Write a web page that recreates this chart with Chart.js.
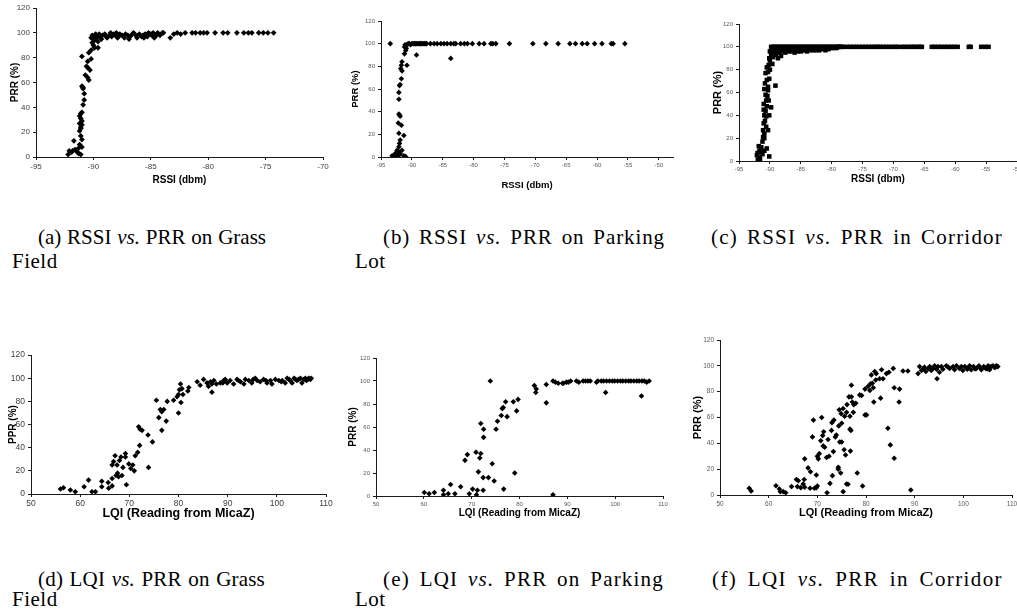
<!DOCTYPE html>
<html>
<head>
<meta charset="utf-8">
<script src="https://cdn.jsdelivr.net/npm/chart.js@4.4.1/dist/chart.umd.min.js"></script>
<style>
  html, body { margin: 0; padding: 0; background: #fff; width: 1017px; height: 612px; overflow: hidden; position: relative; }
  canvas { position: absolute; }
  .cap { position: absolute; font-family: 'Liberation Serif', 'Times New Roman', serif; font-size: 21px; line-height: 22px; letter-spacing: 0.5px; color: #000; white-space: nowrap; }
  .cap.j { white-space: normal; text-align: justify; text-align-last: justify; }
</style>
</head>
<body>

<div class="cap j" style="left:38px;top:226px;width:228px;letter-spacing:0">(a) RSSI <i>vs.</i> PRR on Grass</div>
<div class="cap" style="left:12px;top:250px">Field</div>
<div class="cap j" style="left:383px;top:226px;width:282px;letter-spacing:0.9px">(b) RSSI <i>vs.</i> PRR on Parking</div>
<div class="cap" style="left:355px;top:250px">Lot</div>
<div class="cap j" style="left:711px;top:226px;width:292px;letter-spacing:1.2px">(c) RSSI <i>vs.</i> PRR in Corridor</div>

<div class="cap j" style="left:38px;top:568px;width:227px;letter-spacing:0.2px">(d) LQI <i>vs.</i> PRR on Grass</div>
<div class="cap" style="left:12px;top:588px">Field</div>
<div class="cap j" style="left:383px;top:568px;width:281px;letter-spacing:1.2px">(e) LQI <i>vs.</i> PRR on Parking</div>
<div class="cap" style="left:355px;top:588px">Lot</div>
<div class="cap j" style="left:712px;top:568px;width:291px;letter-spacing:1.4px">(f) LQI <i>vs.</i> PRR in Corridor</div>

<script>
// --- tick labels -----------------------------------------------------------
const prrTicks = [0, 20, 40, 60, 80, 100, 120];
const rssiTicksShort = [-95, -90, -85, -80, -75, -70];
const rssiTicksLong = [-95, -90, -85, -80, -75, -70, -65, -60, -55, -50];
const lqiTicks = [50, 60, 70, 80, 90, 100, 110];

// --- series: [x, PRR %] -----------------------------------------------------
const grassRssi = [
  [-92.2,2],[-92.1,5],[-91.9,4],[-91.8,5],[-91.6,6],[-91.4,4],[-91.3,3],[-91.1,2],[-91.7,13],[-91.3,7],
  [-91.2,10],[-91.1,17],[-91.2,21],[-91.1,24],[-91.0,29],[-91.2,33],[-91.1,35],[-91.0,36],[-91.1,31],[-91.0,26],
  [-91.2,27],[-91.1,23],[-91.0,14],[-91.0,8],[-90.9,42],[-90.9,56],[-91.0,57],[-90.9,55],[-90.8,51],[-90.8,46],
  [-90.7,66],[-90.6,73],[-90.5,72],[-90.4,62],[-90.5,64],[-91.0,81],[-90.5,77],[-90.3,70],[-90.2,79],[-90.4,84],
  [-90.2,86],[-90.1,92],[-90.0,95],[-90.2,96],[-89.9,88],[-89.6,88],[-90.0,90],[-90.1,98],[-89.9,97],[-89.8,99],
  [-90.0,97],[-89.8,98],[-89.7,96],[-89.5,99],[-89.4,97],[-89.3,95],[-89.2,98],[-89.0,99],[-88.9,97],[-88.8,96],
  [-88.6,98],[-88.5,100],[-88.4,97],[-88.2,99],[-88.1,98],[-88.0,100],[-87.8,97],[-87.7,99],[-87.5,98],[-87.3,96],
  [-87.2,99],[-87.0,98],[-86.8,97],[-86.6,99],[-86.5,100],[-86.3,98],[-86.2,96],[-86.0,99],[-85.8,97],[-85.7,98],
  [-85.5,99],[-85.3,97],[-85.2,100],[-85.0,99],[-84.9,98],[-84.8,100],[-84.6,97],[-84.5,99],[-84.4,100],[-84.2,98],
  [-84.0,100],[-83.9,100],[-89.6,93],[-89.9,94],[-87.9,96],[-86.9,95],[-85.6,96],[-84.7,96],
  [-83.3,96],[-83.0,99],[-82.7,100],[-82.4,99],[-82.0,100],[-81.4,100],[-81.1,100],[-80.7,100],[-80.4,100],[-80.1,100],
  [-79.4,100],[-78.7,100],[-78.3,100],[-77.5,100],[-76.9,100],[-76.5,100],[-76.2,100],[-75.6,100],[-75.2,100],[-74.8,100],
  [-74.3,100]
];

const parkingRssi = [
  [-93.5,100],[-91.2,97],[-91.0,94],[-91.2,91],[-90.8,81],[-91.6,84],[-91.7,81],[-91.6,76],[-91.8,78],[-91.7,69],
  [-92.0,63],[-91.9,64],[-92.1,57],[-92.1,51],[-92.0,37],[-92.1,38],[-91.9,36],[-92.2,30],[-91.7,28],[-92.1,21],
  [-91.3,19],[-91.9,15],[-92.0,12],[-92.1,9],[-92.4,6],[-92.7,3],[-92.9,1],[-93.2,1],[-92.2,5],[-91.9,3],
  [-91.6,6],[-92.0,2],[-91.0,0.3],[-91.3,1],[-92.3,2],[-92.5,1],
  [-91.0,98],[-90.8,99],[-90.6,100],[-90.4,100],[-90.2,99],[-90.0,100],[-89.8,100],[-89.6,100],[-89.4,100],[-89.2,100],
  [-89.0,100],[-88.8,100],[-88.6,100],[-88.4,100],[-88.2,100],[-88.0,100],[-87.8,100],[-87.6,100],[-90.9,96],[-91.1,99],
  [-89.25,90],[-83.7,87],
  [-87.0,100],[-86.4,100],[-85.9,100],[-85.3,100],[-84.8,100],[-84.3,100],[-83.7,100],[-83.2,100],[-82.9,100],[-82.1,100],
  [-81.5,100],[-81.0,100],[-80.2,100],[-79.1,100],[-78.3,100],[-77.2,100],[-76.9,100],[-76.4,100],[-74.2,100],[-70.4,100],
  [-68.3,100],[-66.3,100],[-64.4,100],[-63.5,100],[-62.4,100],[-61.6,100],[-60.4,100],[-59.2,100],[-57.7,100],[-57.4,100],
  [-55.5,100]
];

const corridorRssi = [
  [-91.95,1],[-92.1,5],[-91.7,3],[-91.4,8],[-90.9,9],[-90.1,4],[-91.8,13],[-91.4,12],[-91.1,21],[-90.9,20],
  [-91.1,27],[-90.3,27],[-91.0,33],[-90.9,40],[-90.6,39],[-90.1,40],[-91.0,50],[-90.5,48],[-89.8,47],[-90.7,58],
  [-90.9,63],[-90.3,62],[-90.5,71],[-90.1,72],[-90.3,78],[-90.7,77],[-90.2,84],[-89.6,85],[-90.1,90],[-89.5,91],
  [-89.1,66],[-90.0,96],[-88.7,90],[-90.6,53],[-90.2,53],[-90.7,44],[-90.3,65],[-90.5,82],[-90.0,80],[-90.6,30],
  [-90.9,24],[-91.2,17],[-91.7,9],[-90.5,11],[-92.0,7],[-91.6,2],[-91.2,6],[-90.8,35],[-90.4,57],[-90.0,88],
  [-89.8,93],[-90.8,68],[-91.0,45],
  [-89.8,100],[-89.5,100],[-89.2,100],[-88.9,100],[-88.6,100],[-88.3,100],[-88.0,100],[-87.7,100],[-87.4,100],[-87.1,100],
  [-86.8,100],[-86.5,100],[-86.2,100],[-85.9,100],[-85.6,100],[-85.3,100],[-85.0,100],[-84.7,100],[-84.4,100],[-84.1,100],
  [-83.8,100],[-83.5,100],[-83.2,100],[-82.9,100],[-82.6,100],[-82.3,100],[-82.0,100],[-81.7,100],[-81.4,100],[-81.1,100],
  [-80.8,100],[-80.5,100],[-80.2,100],[-79.9,100],[-79.6,100],[-79.3,100],[-79.0,100],[-78.7,100],[-78.4,100],[-78.1,100],
  [-89.6,98],[-89.2,97],[-88.8,98],[-88.4,97],[-88.0,98],[-87.6,97],[-87.2,98],[-86.8,97],[-86.4,98],[-86.0,97],
  [-85.6,98],[-85.2,98],[-84.8,97],[-84.4,98],[-84.0,98],[-83.6,98],[-83.2,99],[-82.8,98],[-82.4,99],[-82.0,98],
  [-81.6,99],[-81.2,99],[-80.8,99],[-80.4,99],[-80.0,99],[-79.6,99],[-79.2,99],[-78.8,100],
  [-89.4,95],[-88.9,96],[-88.5,95],[-88.0,96],[-87.5,95],[-87.0,96],[-86.5,96],[-86.0,95],[-85.5,96],[-85.0,96],
  [-84.5,97],[-84.0,96],[-83.5,97],[-83.0,97],[-82.5,97],[-82.0,97],[-81.5,98],[-81.0,97],[-80.5,98],[-88.2,92],
  [-89.0,93],
  [-77.5,100],[-77.0,100],[-76.5,100],[-76.0,100],[-75.5,100],[-75.0,100],[-74.5,100],[-74.0,100],[-73.5,100],[-73.0,100],
  [-72.6,100],[-72.2,100],[-71.7,100],[-71.2,100],[-70.7,100],[-70.2,100],[-69.7,100],[-69.3,100],[-68.6,100],[-68.1,100],
  [-67.6,100],[-67.1,100],[-66.7,100],[-66.2,100],[-65.8,100],[-65.4,100],[-63.8,100],[-63.3,100],[-62.8,100],[-62.3,100],
  [-61.7,100],[-61.2,100],[-60.7,100],[-60.2,100],[-59.6,100],[-57.8,100],[-57.5,100],[-55.8,100],[-55.2,100],[-54.6,100]
];

const grassLqi = [
  [56.0,4.3],[56.6,5.4],[58.0,3.4],[59.0,2],[60.8,6.3],[61.7,12],[62.4,2],[63.1,2],[64.4,6.3],[64.4,11],
  [65.7,10],[65.8,5],[66.5,7],[66.5,13.4],[66.5,25],[66.8,28],[67.1,33],[67.3,16],[67.6,18],[67.5,25],
  [67.8,15],[68.0,29],[68.3,32],[68.7,23],[68.5,16],[69.2,35],[69.2,32],[69.4,8],[69.9,26],[70.3,22],
  [70.7,25],[71.0,20],[71.2,33],[71.7,36],[72.1,42],[71.9,58],[72.2,56],[72.6,55],[73.8,51],[73.9,23],
  [74.7,45],[75.5,81],[76.0,66],[76.3,73],[76.6,71],[77.0,73],[76.6,55],[77.5,63],[77.7,80],[79.0,81],
  [79.7,84],[80.0,86],[80.0,70],[80.2,90],[80.4,95],[80.7,91],[80.5,79],[80.9,86],[81.9,89],[82.1,92],
  [83.8,97],[84.4,94],[85.1,99],[85.8,96],[86.1,93],[86.5,97],[86.8,95],[86.8,88],[87.2,98],[87.7,95],
  [88.5,96],[89.0,96],[89.2,98],[89.5,99],[89.9,96],[90.5,98],[91.2,95],[91.9,99],[92.2,98],[92.6,97],
  [93.3,95],[93.6,99],[94.3,98],[94.9,96],[95.2,99],[95.6,100],[96.0,98],[96.6,97],[97.3,99],[97.8,98],
  [98.0,96],[98.7,98],[99.0,95],[99.7,99],[100.4,98],[100.9,97],[101.1,98],[101.7,96],[102.1,100],[102.5,99],
  [102.7,98],[103.1,96],[103.5,100],[103.8,99],[104.1,98],[104.4,99],[104.8,100],[105.1,96],[105.5,99],[105.8,100],
  [106.0,98],[106.3,99],[106.5,100],[106.8,99],[107.0,100]
];

const parkingLqi = [
  [60.1,3],[61.1,2],[62.2,3],[64.1,5],[64.1,1],[65.1,2],[65.6,10],[66.5,2],[67.7,8],[68.6,31],
  [69.1,36],[69.5,2],[70.2,6],[70.9,38],[71.0,1],[71.2,5],[71.4,21],[71.7,33],[71.9,63],[71.9,37],
  [72.4,5],[72.4,16],[72.5,58],[72.5,51],[73.5,16],[73.9,100],[74.3,28],[74.7,13],[75.1,58],[75.4,65],
  [76.2,70],[76.4,76],[76.6,77],[76.7,6],[77.1,82],[77.4,69],[78.7,82],[79.0,20],[79.4,74],[79.7,84],
  [83.1,96],[83.4,90],[83.5,93],[85.6,97],[85.6,81],[87.0,1],[87.0,100],[87.5,99],[88.1,98],[89.0,98],
  [89.2,98],[89.8,99],[90.2,99],[90.7,100],[91.9,100],[92.4,99],[93.3,100],[93.8,100],[94.3,100],[94.8,100],
  [96.1,99],[96.4,100],[97.1,100],[97.6,100],[98.0,90],[98.2,100],[98.8,100],[99.4,100],[99.9,100],[100.5,100],
  [101.1,100],[101.6,100],[102.2,100],[102.8,100],[103.3,100],[103.9,100],[104.5,100],[105.0,100],[105.5,87],[105.6,100],
  [106.1,100],[106.6,99],[107.1,100]
];

const corridorLqi = [
  [56.0,5.2],[56.4,3.1],[61.5,7.2],[62.2,4.7],[62.4,2.6],[63.0,2.6],[63.5,1.8],[64.7,6.5],[65.7,12],[66.1,11],
  [65.9,6.5],[66.6,5.7],[67.1,8.5],[67.3,12],[67.4,28],[67.4,6],[68.1,21],[68.5,5.2],[68.6,18],[69.0,45],
  [69.2,58],[69.4,5.2],[69.8,15.5],[69.8,5.7],[70.0,30],[70.2,28],[70.0,7],[70.4,32],[70.7,42],[70.9,60],
  [71.1,46],[71.2,38],[71.3,49],[71.5,37],[71.9,29],[72.0,1.8],[72.2,43],[72.4,30],[72.6,9],[72.9,50],
  [73.0,56],[73.3,33.6],[73.1,15],[73.4,58],[73.7,45],[73.9,46.5],[74.3,21.4],[74.3,20],[74.4,53.5],[74.5,66],
  [74.6,41],[74.8,17],[75.0,41],[74.9,63],[75.0,55.5],[75.3,2.6],[75.3,67],[75.5,35],[75.6,61],[75.8,31],
  [76.0,8.5],[76.0,64],[76.1,70],[76.3,8.3],[76.5,76],[76.7,61],[76.7,51],[76.9,50],[76.8,34],[77.0,85],
  [77.0,76],[77.2,72],[77.4,64],[77.5,70],[77.9,71],[78.2,17],[78.7,77.5],[79.1,77],[79.3,7],[79.8,82],
  [79.8,62],[80.1,62],[80.4,84],[80.8,81],[80.9,86],[81.1,93],[81.3,86.5],[81.5,83],[81.6,72],[81.8,95.6],
  [82.0,89],[82.1,94],[82.8,90],[83.0,75],[83.2,97],[83.5,90],[84.2,94],[84.5,51.7],[84.7,95],[85.0,38.8],
  [85.6,98],[85.8,28.4],[85.8,83],[86.9,82],[86.8,72],[87.6,96],[88.6,96],[89.2,3.9],[90.7,94],
  [91.0,99.4],[91.4,96.4],[91.7,97.4],[92.0,99],[92.3,95.6],[92.8,98],[93.1,99.4],[93.4,96.4],[93.8,98],[94.1,100],
  [94.5,97.4],[94.6,90],[94.8,99.4],[95.1,95],[95.5,99.4],[95.8,97.4],[96.5,100],[96.9,99],[97.2,98],[97.9,99.4],
  [98.2,97],[98.6,100],[99.2,98],[99.6,99.5],[99.9,96.4],[100.3,99.4],[100.8,97.4],[101.0,98.5],[101.3,100],[101.6,97],
  [102.1,99.4],[102.4,97.5],[102.7,98],[103.2,100],[103.5,98.5],[103.7,97],[104.2,99.4],[104.6,98],[104.9,97.5],[105.1,100],
  [105.4,97],[105.7,99.4],[106.1,100],[106.4,98.7],[106.6,99],[106.8,100],[107.1,99.4]
];

// --- panel layout ----------------------------------------------------------
const YW = 40;   // space kept for y tick labels + title
const XH = 40;   // space kept for x tick labels + title
const PT = 8;
const PR = 10;
const AXIS = '#1a1a1a';
const SANS = "'Liberation Sans', Arial, sans-serif";

function makePanel(cfg) {
  const box = cfg.box;
  const w = box.r - box.l + YW + PR;
  const h = box.b - box.t + PT + XH;
  const canvas = document.createElement('canvas');
  canvas.width = w;
  canvas.height = h;
  canvas.style.left = (box.l - YW) + 'px';
  canvas.style.top = (box.t - PT) + 'px';
  canvas.style.width = w + 'px';
  canvas.style.height = h + 'px';
  document.body.appendChild(canvas);

  const xLH = cfg.xTitleSize * 1.2;
  const yLH = cfg.yTitleSize * 1.2;
  const xTitlePad = box.b + XH - cfg.xTitleY - xLH / 2;
  const yTitlePad = cfg.yTitleX - (box.l - YW) - yLH / 2;

  const tickFont = { family: SANS, size: cfg.tickSize };

  new Chart(canvas, {
    type: 'scatter',
    data: {
      datasets: [{
        data: cfg.points.map(([x, y]) => ({ x, y })),
        pointStyle: cfg.marker,
        pointRadius: cfg.radius,
        backgroundColor: '#000',
        borderColor: '#000',
        borderWidth: 0,
      }],
    },
    options: {
      responsive: false,
      animation: false,
      events: [],
      layout: { padding: { left: 0, top: PT, right: PR, bottom: 0 } },
      plugins: { legend: { display: false }, tooltip: { enabled: false } },
      scales: {
        x: {
          type: 'linear',
          min: cfg.xMin,
          max: cfg.xMax,
          afterBuildTicks: (s) => { s.ticks = cfg.xTicks.map((v) => ({ value: v })); },
          afterFit: (s) => { s.height = XH; },
          grid: { drawOnChartArea: false, drawTicks: true, tickLength: 3, color: AXIS },
          border: { color: AXIS, width: 1 },
          ticks: { color: cfg.tickColor, font: tickFont, padding: 2, maxRotation: 0, autoSkip: false },
          title: {
            display: true, text: cfg.xTitle, color: '#000',
            font: { family: SANS, size: cfg.xTitleSize, weight: 'bold' },
            padding: { top: 0, bottom: xTitlePad },
          },
        },
        y: {
          type: 'linear',
          min: 0,
          max: 120,
          afterBuildTicks: (s) => { s.ticks = prrTicks.map((v) => ({ value: v })); },
          afterFit: (s) => { s.width = YW; },
          grid: { drawOnChartArea: false, drawTicks: true, tickLength: 3, color: AXIS },
          border: { color: AXIS, width: 1 },
          ticks: { color: cfg.tickColor, font: tickFont, padding: 3 },
          title: {
            display: true, text: cfg.yTitle, color: '#000',
            font: { family: SANS, size: cfg.yTitleSize, weight: 'bold' },
            padding: { top: yTitlePad, bottom: 0 },
          },
        },
      },
    },
  });
}

makePanel({
  box: { l: 36, r: 323, t: 8, b: 157 }, points: grassRssi,
  xMin: -95, xMax: -70, xTicks: rssiTicksShort, tickSize: 8, tickColor: '#404040',
  xTitle: 'RSSI (dbm)', xTitleSize: 10, xTitleY: 180,
  yTitle: 'PRR (%)', yTitleSize: 10, yTitleX: 15,
  marker: 'rectRot', radius: 2.9,
});
makePanel({
  box: { l: 381, r: 673, t: 21, b: 157 }, points: parkingRssi,
  xMin: -95, xMax: -47.7, xTicks: rssiTicksLong, tickSize: 6, tickColor: '#595959',
  xTitle: 'RSSI (dbm)', xTitleSize: 9.5, xTitleY: 185,
  yTitle: 'PRR (%)', yTitleSize: 9.5, yTitleX: 355,
  marker: 'rectRot', radius: 2.8,
});
makePanel({
  box: { l: 739, r: 1017, t: 24, b: 161 }, points: corridorRssi,
  xMin: -95, xMax: -50, xTicks: rssiTicksLong, tickSize: 6, tickColor: '#595959',
  xTitle: 'RSSI (dbm)', xTitleSize: 10, xTitleY: 179,
  yTitle: 'PRR (%)', yTitleSize: 11, yTitleX: 718,
  marker: 'rect', radius: 3.2,
});
makePanel({
  box: { l: 31, r: 326, t: 355, b: 494 }, points: grassLqi,
  xMin: 50, xMax: 110, xTicks: lqiTicks, tickSize: 8.5, tickColor: '#404040',
  xTitle: 'LQI (Reading from MicaZ)', xTitleSize: 12.5, xTitleY: 514,
  yTitle: 'PPR (%)', yTitleSize: 10, yTitleX: 13,
  marker: 'rectRot', radius: 2.8,
});
makePanel({
  box: { l: 376, r: 663, t: 358, b: 496 }, points: parkingLqi,
  xMin: 50, xMax: 110, xTicks: lqiTicks, tickSize: 6, tickColor: '#595959',
  xTitle: 'LQI (Reading from MicaZ)', xTitleSize: 10, xTitleY: 513,
  yTitle: 'PRR (%)', yTitleSize: 10, yTitleX: 353,
  marker: 'rectRot', radius: 2.8,
});
makePanel({
  box: { l: 720, r: 1012, t: 340, b: 495 }, points: corridorLqi,
  xMin: 50, xMax: 110, xTicks: lqiTicks, tickSize: 6.5, tickColor: '#595959',
  xTitle: 'LQI (Reading from MicaZ)', xTitleSize: 11, xTitleY: 513,
  yTitle: 'PRR (%)', yTitleSize: 11, yTitleX: 698,
  marker: 'rectRot', radius: 2.8,
});
</script>
</body>
</html>
